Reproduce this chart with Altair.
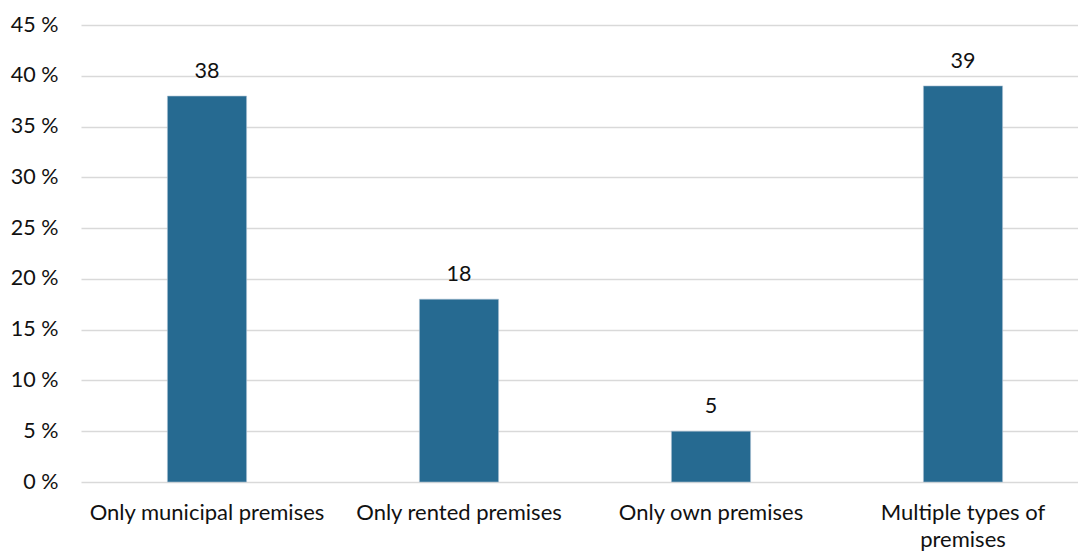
import altair as alt
import pandas as pd

# Share of respondents by type of premises used (%)
categories = [
    "Only municipal premises",
    "Only rented premises",
    "Only own premises",
    "Multiple types of premises",
]
shares = [38, 18, 5, 39]
y_ticks = [0, 5, 10, 15, 20, 25, 30, 35, 40, 45]

df = pd.DataFrame({"category": categories, "share": shares})

FONT = "Lato"
FS = 21.5
BAR = "#266a91"
TXT = "#111111"

x = alt.X(
    "category:N",
    sort=categories,
    title=None,
    scale=alt.Scale(paddingInner=0.686, paddingOuter=0.343, range=[0, 1008]),
    axis=alt.Axis(
        labelAngle=0,
        domain=False,
        ticks=False,
        labelPadding=20,
        labelFontSize=22,
        labelFont=FONT,
        labelColor=TXT,
        labelLimit=320,
        labelExpr="datum.value == 'Multiple types of premises' ? ['Multiple types of', 'premises'] : datum.value",
        labelLineHeight=27,
    ),
)

y = alt.Y(
    "share:Q",
    title=None,
    scale=alt.Scale(domain=[0, 45], nice=False),
    axis=alt.Axis(
        values=y_ticks,
        labelExpr="datum.value + ' %'",
        domain=False,
        ticks=False,
        labelPadding=23,
        labelFontSize=FS,
        labelFont=FONT,
        labelColor=TXT,
        grid=True,
        gridColor="#d9d9d9",
        gridWidth=1.3,
    ),
)

bars = alt.Chart(df).mark_bar(color=BAR, stroke="#a9c0d2", strokeWidth=0.6).encode(x=x, y=y)

labels = alt.Chart(df).mark_text(
    baseline="alphabetic", dy=-18, fontSize=FS, font=FONT, color=TXT
).encode(x=alt.X("category:N", sort=categories), y="share:Q", text="share:Q")

chart = (
    alt.layer(bars, labels)
    .properties(
        width=997,
        height=457,
        autosize=alt.AutoSizeParams(type="none"),
        padding={"left": 81, "top": 25, "right": 0, "bottom": 70},
        background="white",
    )
    .configure_view(stroke=None)
)

chart.save("out.html", embed_options={"renderer": "svg", "actions": False})
